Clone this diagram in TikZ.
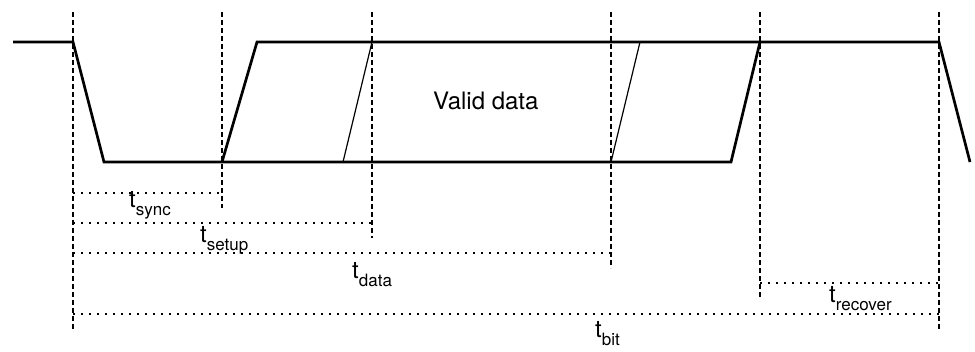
\documentclass[tikz,border=0pt]{standalone}
\usepackage{fontspec}
\setmainfont{TeX Gyre Heros}
\newcommand\tsub[1]{t\raisebox{-8.5pt}{\fontsize{17}{20}\selectfont #1}}
\begin{document}
\begin{tikzpicture}[x=1pt,y=-1pt,
  sig/.style={line width=2.7pt, line join=miter},
  thinsig/.style={line width=1.2pt},
  guide/.style={line width=2.2pt, dash pattern=on 5pt off 3pt},
  meas/.style={line width=1.6pt, dash pattern=on 2pt off 6pt},
  lbl/.style={anchor=base west, inner sep=0pt, font=\fontsize{24}{28}\selectfont}]
\useasboundingbox (0,0) rectangle (975,351);
% guide tops and bottoms
\coordinate (g1t) at (73,12);  \coordinate (g1b) at (73,329);
\coordinate (g2t) at (222,12); \coordinate (g2b) at (222,208);
\coordinate (g3t) at (372,12); \coordinate (g3b) at (372,238);
\coordinate (g4t) at (611,12); \coordinate (g4b) at (611,268);
\coordinate (g5t) at (760,12); \coordinate (g5b) at (760,299);
\coordinate (g6t) at (939,12); \coordinate (g6b) at (939,329);
\foreach \i in {1,...,6} \draw[guide] (g\i t) -- (g\i b);
% waveform
\coordinate (s0) at (13,42);
\coordinate (f1a) at (73,42);
\coordinate (f1b) at (104,162);
\coordinate (r1a) at (222,162);
\coordinate (r1b) at (257,42);
\coordinate (r2a) at (731,162);
\coordinate (r2b) at (760,42);
\coordinate (e) at (939,42);
\coordinate (f2b) at (970,162);
\coordinate (d1a) at (343,162);
\coordinate (d1b) at (372,42);
\coordinate (d2a) at (611,162);
\coordinate (d2b) at (640,42);
\draw[sig] (s0) -- (f1a) -- (f1b) -- (r2a) -- (r2b);
\draw[sig] (r1a) -- (r1b) -- (e) -- (f2b);
\draw[thinsig] (d1a) -- (d1b);
\draw[thinsig] (d2a) -- (d2b);
\node[lbl] (valid) at (433,109) {Valid data};
% measurement lines
\coordinate (m1a) at (73,193);  \coordinate (m1b) at (222,193);
\coordinate (m2a) at (73,223);  \coordinate (m2b) at (372,223);
\coordinate (m3a) at (73,253);  \coordinate (m3b) at (611,253);
\coordinate (m4a) at (760,283); \coordinate (m4b) at (939,283);
\coordinate (m5a) at (73,314);  \coordinate (m5b) at (939,314);
\foreach \i in {1,...,5} \draw[meas] (m\i a) -- (m\i b);
\node[lbl] (tsync) at (129,207) {\tsub{sync}};
\node[lbl] (tsetup) at (200,242) {\tsub{setup}};
\node[lbl] (tdata) at (352,278) {\tsub{data}};
\node[lbl] (trec) at (829,302) {\tsub{recover}};
\node[lbl] (tbit) at (595,337) {\tsub{bit}};
\end{tikzpicture}
\end{document}
